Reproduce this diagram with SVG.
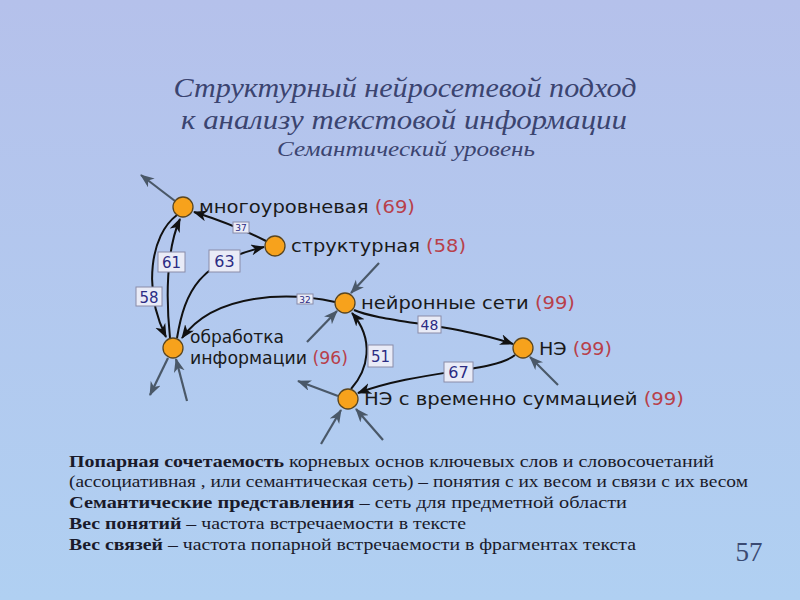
<svg xmlns="http://www.w3.org/2000/svg" width="800" height="600" viewBox="0 0 800 600">
<defs>
<linearGradient id="bg" x1="0" y1="0" x2="0" y2="1">
<stop offset="0" stop-color="#b5c1eb"/>
<stop offset="1" stop-color="#b0d0f2"/>
</linearGradient>
<marker id="ah" markerUnits="userSpaceOnUse" markerWidth="16" markerHeight="12" refX="13" refY="5.5" orient="auto">
<path d="M0,0 L14,5.5 L0,11 L4,5.5 z" fill="#111"/>
</marker>
<marker id="ag" markerUnits="userSpaceOnUse" markerWidth="16" markerHeight="12" refX="13" refY="5.5" orient="auto">
<path d="M0,0 L14,5.5 L0,11 L4,5.5 z" fill="#4a5868"/>
</marker>
</defs>
<style>
.title{font-family:"Liberation Serif",serif;font-style:italic;fill:#3b4470;text-anchor:middle}
.edge{fill:none;stroke:#111;stroke-width:2;marker-end:url(#ah)}
.ext{fill:none;stroke:#4a5868;stroke-width:2.2;marker-end:url(#ag)}
.node{fill:#f7a21c;stroke:#5a4620;stroke-width:1.3}
.lbl{font-family:"DejaVu Sans",sans-serif;font-size:18px;fill:#1a1a1a}
.num{fill:#b8404a}
.box{fill:#e9ebf7;stroke:#8a8ca8;stroke-width:1}
.bt{font-family:"DejaVu Sans",sans-serif;fill:#2c2c84;text-anchor:middle}
.body{font-family:"Liberation Serif",serif;font-size:16.5px;fill:#1a1a2a}
.b{font-weight:bold}
</style>
<rect x="0" y="0" width="800" height="600" fill="url(#bg)"/>

<g id="title">
<text class="title" x="405" y="97" font-size="27" textLength="463" lengthAdjust="spacingAndGlyphs">Структурный нейросетевой подход</text>
<text class="title" x="404" y="129" font-size="27" textLength="446" lengthAdjust="spacingAndGlyphs">к анализу текстовой информации</text>
<text class="title" x="406" y="156" font-size="20" textLength="258" lengthAdjust="spacingAndGlyphs">Семантический уровень</text>
</g>

<g id="connectors">
<path class="edge" d="M170,338 C166,300 166,250 180,219"/>
<path class="edge" d="M177,215 C150,235 143,290 166,337"/>
<path class="edge" d="M177,338 C185,290 200,262 264,247"/>
<path class="edge" d="M266,241 Q235,225 194,212"/>
<path class="edge" d="M335,302 C290,292 215,292 182,338"/>
<path class="edge" d="M354,310 C380,322 460,325 513,344"/>
<path class="edge" d="M515,355 C495,372 420,370 358,393"/>
<path class="edge" d="M351,389 C368,370 375,340 352,313"/>
<path class="ext" d="M175,201 L141,175"/>
<path class="ext" d="M379,263 L351,293"/>
<path class="ext" d="M307,342 L337,311"/>
<path class="ext" d="M168,358 L150,395"/>
<path class="ext" d="M187,401 L176,359"/>
<path class="ext" d="M338,396 L298,381"/>
<path class="ext" d="M321,444 L341,410"/>
<path class="ext" d="M383,440 L356,409"/>
<path class="ext" d="M558,385 L530,357"/>
<g id="edge-labels">
<rect class="box" x="158" y="252" width="27" height="20"/><text class="bt" x="171.5" y="268" font-size="15">61</text>
<rect class="box" x="136" y="287" width="26" height="19"/><text class="bt" x="149" y="302.5" font-size="15">58</text>
<rect class="box" x="209" y="250" width="31" height="22"/><text class="bt" x="224.5" y="267" font-size="16">63</text>
<rect class="box" x="233" y="222" width="16" height="11"/><text class="bt" x="241" y="231" font-size="9">37</text>
<rect class="box" x="297" y="294" width="16" height="10"/><text class="bt" x="305" y="302.5" font-size="9">32</text>
<rect class="box" x="418" y="316" width="23" height="17"/><text class="bt" x="429.5" y="330" font-size="14">48</text>
<rect class="box" x="444" y="362" width="29" height="20"/><text class="bt" x="458.5" y="378" font-size="16">67</text>
<rect class="box" x="368" y="345" width="25" height="22"/><text class="bt" x="380.5" y="362" font-size="15">51</text>
</g>
</g>

<g id="n-mnogo"><circle class="node" cx="183" cy="207" r="10"/><text class="lbl" x="199" y="213" textLength="216" lengthAdjust="spacingAndGlyphs">многоуровневая <tspan class="num">(69)</tspan></text></g>
<g id="n-struct"><circle class="node" cx="275" cy="246" r="10"/><text class="lbl" x="291" y="252" textLength="175" lengthAdjust="spacingAndGlyphs">структурная <tspan class="num">(58)</tspan></text></g>
<g id="n-neuro"><circle class="node" cx="345" cy="303" r="10"/><text class="lbl" x="361" y="309" textLength="214" lengthAdjust="spacingAndGlyphs">нейронные сети <tspan class="num">(99)</tspan></text></g>
<g id="n-obr"><circle class="node" cx="173" cy="348" r="10"/><text class="lbl" x="190" y="343" textLength="94" lengthAdjust="spacingAndGlyphs">обработка</text><text class="lbl" x="190" y="364" textLength="158" lengthAdjust="spacingAndGlyphs">информации <tspan class="num">(96)</tspan></text></g>
<g id="n-ne"><circle class="node" cx="523" cy="348" r="10"/><text class="lbl" x="539" y="355" textLength="73" lengthAdjust="spacingAndGlyphs">НЭ <tspan class="num">(99)</tspan></text></g>
<g id="n-nevs"><circle class="node" cx="348" cy="399" r="10"/><text class="lbl" x="364" y="405" textLength="320" lengthAdjust="spacingAndGlyphs">НЭ с временно суммацией <tspan class="num">(99)</tspan></text></g>

<g id="body">
<text class="body" x="69" y="467" textLength="645" lengthAdjust="spacingAndGlyphs"><tspan class="b">Попарная сочетаемость</tspan> корневых основ ключевых слов и словосочетаний</text>
<text class="body" x="69" y="487" textLength="679" lengthAdjust="spacingAndGlyphs">(ассоциативная , или семантическая сеть) – понятия с их весом и связи с их весом</text>
<text class="body" x="69" y="508" textLength="558" lengthAdjust="spacingAndGlyphs"><tspan class="b">Семантические представления</tspan> – сеть для предметной области</text>
<text class="body" x="69" y="529" textLength="397" lengthAdjust="spacingAndGlyphs"><tspan class="b">Вес понятий</tspan> – частота встречаемости в тексте</text>
<text class="body" x="69" y="550" textLength="567" lengthAdjust="spacingAndGlyphs"><tspan class="b">Вес связей</tspan> – частота попарной встречаемости в фрагментах текста</text>
<text x="749" y="561" font-family="Liberation Serif,serif" font-size="27" fill="#3a4a72" text-anchor="middle">57</text>
</g>
</svg>
